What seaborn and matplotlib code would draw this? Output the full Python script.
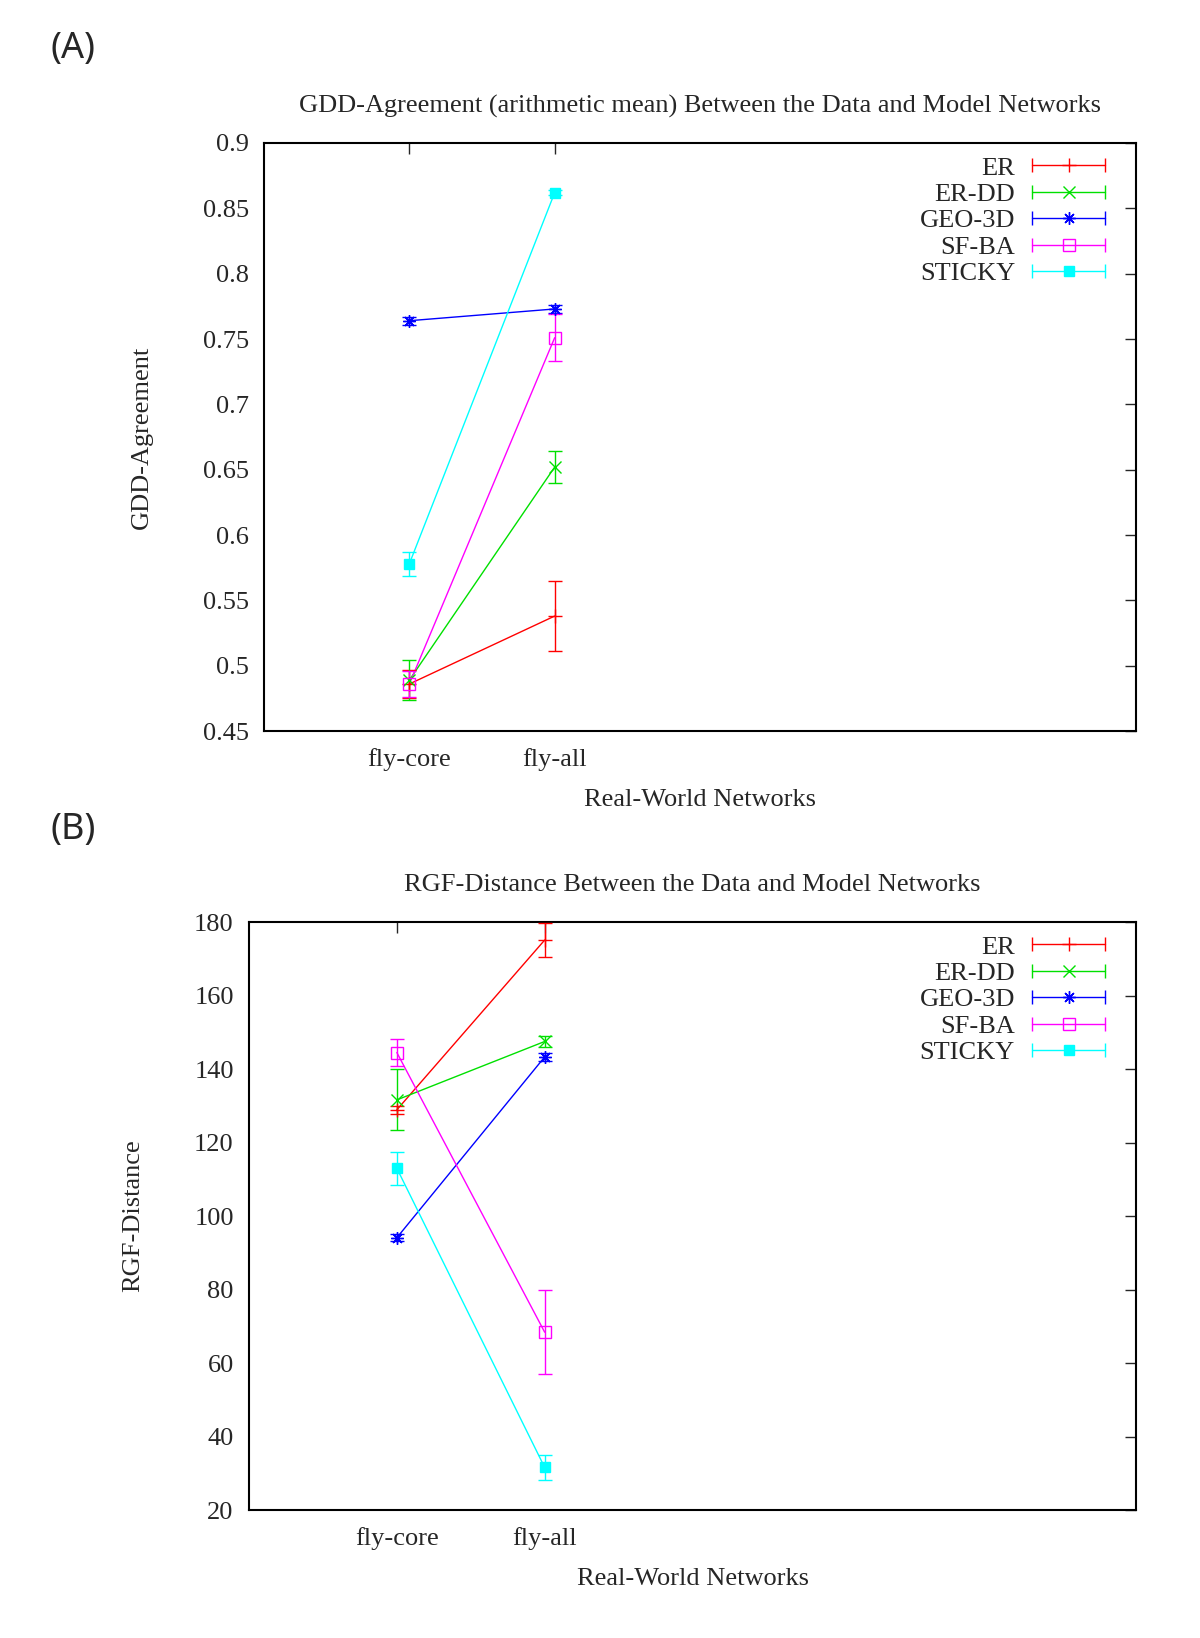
import numpy as np
import pandas as pd
import matplotlib
matplotlib.use('Agg')
import matplotlib.pyplot as plt
import seaborn as sns
from matplotlib.lines import Line2D
from matplotlib.legend_handler import HandlerLine2D
from matplotlib.ticker import FormatStrFormatter

# Data
networks = ['fly-core', 'fly-all']
models = ['ER', 'ER-DD', 'GEO-3D', 'SF-BA', 'STICKY']

# panel A: GDD-agreement (mean, error) per model, per network
gdd_mean = [[0.486, 0.538], [0.489, 0.652], [0.764, 0.773], [0.486, 0.751], [0.578, 0.862]]
gdd_err = [[0.011, 0.027], [0.015, 0.012], [0.003, 0.003], [0.010, 0.018], [0.009, 0.002]]

# panel B: RGF-distance (mean, error) per model, per network
rgf_mean = [[128.9, 175.1], [131.6, 147.5], [94.1, 143.3], [144.5, 68.4], [113.0, 31.6]]
rgf_err = [[1.0, 4.6], [8.3, 1.5], [1.0, 1.0], [3.8, 11.5], [4.5, 3.3]]

colors = ['#ff0000', '#00e000', '#0000ff', '#ff00ff', '#00ffff']
markers = ['+', 'x', (8, 2, 0), 's', 's']
marker_fill = ['none', 'none', 'none', 'none', 'full']
marker_sizes = [10, 9, 9, 8, 7]

sns.set_style('white')
plt.rcParams['font.family'] = ['Liberation Serif', 'DejaVu Serif']
plt.rcParams['font.size'] = 19
FS = 19


def draw_panel(ax, mean, err, title, ylabel, ylim, ystep, yfmt):
    pos = np.arange(len(networks))
    df = pd.DataFrame({
        'pos': np.tile(pos, len(models)),
        'model': np.repeat(models, len(networks)),
        'value': np.ravel(mean),
    })
    sns.lineplot(data=df, x='pos', y='value', hue='model', palette=colors,
                 linewidth=1.0, legend=False, sort=False, ax=ax)

    handles = []
    hmap = {}
    for i, m in enumerate(models):
        c = colors[i]
        mfc = c if marker_fill[i] == 'full' else 'none'
        ax.errorbar(pos, mean[i], yerr=err[i], fmt='none', ecolor=c,
                    elinewidth=1.0, capsize=5, capthick=1.0, zorder=3)
        ax.plot(pos, mean[i], ls='none', marker=markers[i], color=c, mfc=mfc,
                mec=c, ms=marker_sizes[i], mew=1.0, zorder=4)
        caps = Line2D([], [], color=c, lw=1.0, marker='|', ms=10, mew=1.0)
        center = Line2D([], [], ls='none', marker=markers[i], color=c, mfc=mfc,
                        mec=c, ms=marker_sizes[i], mew=1.0)
        hmap[caps] = HandlerLine2D(numpoints=2, marker_pad=0)
        hmap[center] = HandlerLine2D(numpoints=1)
        handles.append((caps, center))

    ax.legend(handles, models, handler_map=hmap, loc='upper right',
              frameon=False, markerfirst=False, handlelength=2.77,
              handletextpad=0.65, labelspacing=0.11, borderaxespad=0.1,
              bbox_to_anchor=(0.980, 1.0), fontsize=FS)

    ax.set_xlim(-1, 5)
    ax.set_xticks(pos)
    ax.set_xticklabels(networks)
    ax.set_ylim(*ylim)
    ax.set_yticks(np.arange(ylim[0], ylim[1] + ystep / 2, ystep))
    ax.yaxis.set_major_formatter(FormatStrFormatter(yfmt))
    ax.tick_params(direction='in', length=8, width=1.0, top=True, right=True,
                   labelsize=FS)
    ax.tick_params(axis='y', pad=11)
    ax.tick_params(axis='x', pad=12)
    for s in ax.spines.values():
        s.set_color('black')
        s.set_linewidth(1.5)
    ax.set_title(title, fontsize=FS, pad=22)
    ax.set_ylabel(ylabel, fontsize=FS, labelpad=36)
    ax.set_xlabel('Real-World Networks', fontsize=FS, labelpad=13)


fig = plt.figure(figsize=(12, 16.38), dpi=100)
ax_a = fig.add_axes([0.22, 0.5537, 0.7267, 0.359])
ax_b = fig.add_axes([0.2075, 0.0781, 0.7392, 0.359])

draw_panel(ax_a, gdd_mean, gdd_err,
           'GDD-Agreement (arithmetic mean) Between the Data and Model Networks',
           'GDD-Agreement', (0.45, 0.9), 0.05, '%g')
draw_panel(ax_b, rgf_mean, rgf_err,
           'RGF-Distance Between the Data and Model Networks',
           'RGF-Distance', (20, 180), 20, '%g')

fig.text(0.061, 0.97, '(A)', fontsize=26, family=['Noto Sans', 'DejaVu Sans'],
         va='center', ha='center')
fig.text(0.061, 0.4935, '(B)', fontsize=26, family=['Noto Sans', 'DejaVu Sans'],
         va='center', ha='center')

fig.savefig('out.png', dpi=100)
